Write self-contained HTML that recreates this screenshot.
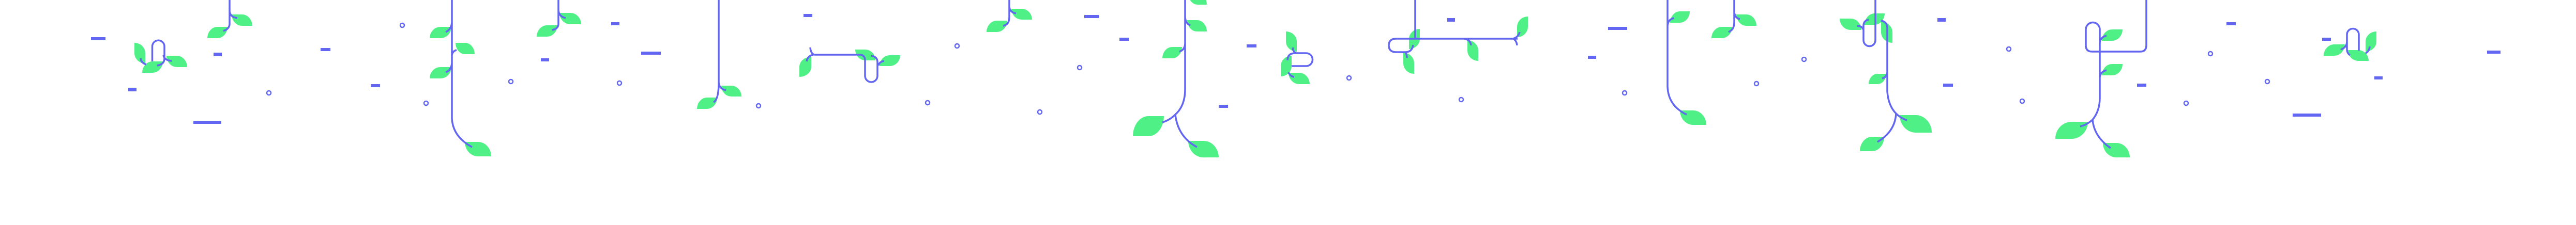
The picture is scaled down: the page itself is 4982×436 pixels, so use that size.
<!DOCTYPE html>
<html><head><meta charset="utf-8"><style>
html,body{margin:0;padding:0;background:#fff;}
#c{position:relative;width:4982px;height:436px;overflow:hidden;background:#fff;}
svg{position:absolute;left:0;top:0;}
.l{position:absolute;background:#4ff085;}
.a{border-top-left-radius:50% 100%;border-bottom-right-radius:50% 100%;}
.b{border-top-right-radius:50% 100%;border-bottom-left-radius:50% 100%;}
.va{border-top-left-radius:100% 50%;border-bottom-right-radius:100% 50%;}
.vb{border-top-right-radius:100% 50%;border-bottom-left-radius:100% 50%;}
</style></head><body><div id="c">
<div class="l vb" style="left:260px;top:83px;width:21px;height:40px"></div>
<div class="l a" style="left:275px;top:119px;width:40px;height:22px"></div>
<div class="l b" style="left:322px;top:108px;width:40px;height:22px"></div>
<div class="l b" style="left:448px;top:28px;width:40px;height:22px"></div>
<div class="l a" style="left:401px;top:52px;width:39px;height:22px"></div>
<div class="l a" style="left:831px;top:52px;width:42px;height:22px"></div>
<div class="l b" style="left:881px;top:83px;width:37px;height:22px"></div>
<div class="l a" style="left:831px;top:130px;width:42px;height:22px"></div>
<div class="l b" style="left:899px;top:275px;width:51px;height:28px"></div>
<div class="l b" style="left:1082px;top:25px;width:42px;height:22px"></div>
<div class="l a" style="left:1038px;top:49px;width:40px;height:22px"></div>
<div class="l b" style="left:1395px;top:166px;width:39px;height:21px"></div>
<div class="l a" style="left:1348px;top:189px;width:39px;height:22px"></div>
<div class="l va" style="left:1546px;top:110px;width:23px;height:39px"></div>
<div class="l b" style="left:1654px;top:96px;width:39px;height:21px"></div>
<div class="l a" style="left:1701px;top:107px;width:40px;height:21px"></div>
<div class="l b" style="left:1956px;top:17px;width:40px;height:21px"></div>
<div class="l a" style="left:1908px;top:40px;width:40px;height:22px"></div>
<div class="l b" style="left:2298px;top:-13px;width:36px;height:22px"></div>
<div class="l b" style="left:2296px;top:39px;width:38px;height:22px"></div>
<div class="l a" style="left:2248px;top:91px;width:38px;height:22px"></div>
<div class="l a" style="left:2191px;top:225px;width:60px;height:39px"></div>
<div class="l b" style="left:2298px;top:273px;width:59px;height:32px"></div>
<div class="l vb" style="left:2487px;top:61px;width:21px;height:39px"></div>
<div class="l va" style="left:2477px;top:108px;width:21px;height:40px"></div>
<div class="l b" style="left:2492px;top:141px;width:41px;height:22px"></div>
<div class="l va" style="left:2725px;top:56px;width:21px;height:39px"></div>
<div class="l vb" style="left:2714px;top:102px;width:21px;height:41px"></div>
<div class="l vb" style="left:2838px;top:78px;width:21px;height:40px"></div>
<div class="l va" style="left:2934px;top:32px;width:21px;height:40px"></div>
<div class="l a" style="left:3230px;top:22px;width:38px;height:22px"></div>
<div class="l b" style="left:3249px;top:214px;width:51px;height:28px"></div>
<div class="l b" style="left:3358px;top:28px;width:39px;height:22px"></div>
<div class="l a" style="left:3310px;top:52px;width:40px;height:22px"></div>
<div class="l b" style="left:3558px;top:36px;width:42px;height:22px"></div>
<div class="l a" style="left:3606px;top:26px;width:39px;height:22px"></div>
<div class="l vb" style="left:3638px;top:42px;width:22px;height:41px"></div>
<div class="l a" style="left:3614px;top:143px;width:34px;height:20px"></div>
<div class="l b" style="left:3674px;top:223px;width:62px;height:34px"></div>
<div class="l a" style="left:3597px;top:265px;width:47px;height:28px"></div>
<div class="l a" style="left:4065px;top:57px;width:40px;height:22px"></div>
<div class="l a" style="left:4065px;top:124px;width:40px;height:22px"></div>
<div class="l a" style="left:3975px;top:236px;width:63px;height:33px"></div>
<div class="l b" style="left:4067px;top:277px;width:52px;height:28px"></div>
<div class="l a" style="left:4494px;top:86px;width:41px;height:22px"></div>
<div class="l b" style="left:4541px;top:97px;width:40px;height:21px"></div>
<div class="l va" style="left:4575px;top:61px;width:21px;height:39px"></div>

<svg width="4982" height="436" viewBox="0 0 4982 436">
<g fill="none" stroke="#6366f1" stroke-width="3.5">
<path d="M294.5,119 V90 A11.75 11.75 0 0 1 318 90 V113 Q318 125 304 127 M272,113 Q273 122 283 125 M316,107 Q318 117 332 118"/>
<path d="M444,0 V46 Q444 56 432 60 M444,22 Q445 33 459 35"/>
<path d="M874,0 V230 Q876 265 913 285 M874,43 Q873 57 862 62 M874,107 Q875 99 883 97 M874,122 Q873 136 862 140"/>
<path d="M1080,0 V46 Q1080 56 1068 58 M1080,20 Q1081 32 1094 35"/>
<path d="M1390,0 V160 Q1390 193 1380 198 M1390,160 Q1391 172 1404 175"/>
<path d="M1567,92 Q1568 104 1575 106 H1662 Q1673 106 1673 117 V147 A12 12 0 0 0 1697 147 V120 Q1697 110 1685 108 M1573,106 Q1562 108 1560 119 M1699,127 Q1700 120 1710 118"/>
<path d="M1952,0 V33 Q1952 48 1940 50 M1952,13 Q1953 24 1965 26"/>
<path d="M2292,0 V173 Q2292 205 2273 222 Q2262 233 2248 237 M2273,222 Q2278 265 2315 285 M2292,33 Q2293 46 2302 49 M2292,85 Q2291 97 2281 100"/>
<path d="M2490,117 Q2490 103 2505 103 H2526 A12.5 12.5 0 0 1 2526 128 H2498 M2500,92 Q2501 101 2507 103 M2492,140 Q2495 148 2503 149"/>
<path d="M2737,0 V75 M2935,75 H2700 Q2686 75 2686 88 Q2686 101 2700 101 H2718 Q2731 101 2733 87 M2718,101 Q2721 106 2721 112 M2832,75 Q2844 77 2845 88 M2926,75 Q2933 78 2934 88 M2926,75 Q2937 72 2939 62"/>
<path d="M3225,0 V167 Q3226 205 3262 222 M3225,50 Q3226 37 3238 35"/>
<path d="M3354,0 V43 Q3354 58 3343 62 M3354,23 Q3355 35 3365 37"/>
<path d="M3627,0 V78 A11.5 11.5 0 0 1 3604 78 V50 Q3604 40 3614 38 M3638,40 Q3650 42 3650 55 V177 Q3652 205 3667 220 Q3676 229 3688 233 M3667,220 Q3665 255 3631 275 M3650,140 Q3649 150 3640 152 M3592,50 Q3601 50 3604 58"/>
<path d="M4151,0 V88 Q4151 100 4139 100 H4046 Q4034 100 4034 88 V57 A13.5 13.5 0 0 1 4061 57 V190 Q4061 215 4047 232 Q4036 242 4023 245 M4047,232 Q4050 265 4082 287 M4061,83 Q4062 72 4074 69 M4061,150 Q4062 139 4074 136"/>
<path d="M4527,96 Q4539 92 4539 80 V67 A11.5 11.5 0 0 1 4562 67 V98 M4539,80 V97 Q4540 104 4545 107 M4583,90 Q4582 100 4575 103"/>
</g>
<g fill="none" stroke="#6366f1" stroke-width="2.5">
<circle cx="520" cy="180" r="4"/><circle cx="778" cy="49" r="4"/><circle cx="824" cy="200" r="4"/>
<circle cx="988" cy="158" r="4"/><circle cx="1198" cy="161" r="4"/><circle cx="1467" cy="205" r="4"/>
<circle cx="1851" cy="89" r="4"/><circle cx="1794" cy="199" r="4"/><circle cx="2011" cy="217" r="4"/>
<circle cx="2088" cy="131" r="4"/><circle cx="2609" cy="151" r="4"/><circle cx="2826" cy="193" r="4"/>
<circle cx="3142" cy="180" r="4"/><circle cx="3489" cy="115" r="4"/><circle cx="3397" cy="162" r="4"/>
<circle cx="3885" cy="95" r="4"/><circle cx="3911" cy="196" r="4"/><circle cx="4275" cy="104" r="4"/>
<circle cx="4228" cy="200" r="4"/><circle cx="4385" cy="158" r="4"/>
</g>
<g fill="#6366f1">
<rect x="176" y="72" width="28" height="6"/><rect x="248" y="170" width="16" height="7"/>
<rect x="374" y="234" width="54" height="6"/><rect x="413" y="102" width="16" height="7"/>
<rect x="620" y="93" width="19" height="6"/><rect x="717" y="163" width="18" height="6"/>
<rect x="1182" y="43" width="16" height="6"/><rect x="1046" y="113" width="16" height="6"/>
<rect x="1240" y="100" width="38" height="6"/><rect x="1554" y="27" width="17" height="6"/>
<rect x="2097" y="29" width="28" height="6"/><rect x="2165" y="73" width="18" height="6"/>
<rect x="2357" y="203" width="18" height="6"/><rect x="2411" y="86" width="19" height="6"/>
<rect x="2799" y="35" width="15" height="7"/><rect x="3110" y="52" width="37" height="6"/>
<rect x="3071" y="108" width="16" height="6"/><rect x="3747" y="35" width="16" height="7"/>
<rect x="3758" y="162" width="19" height="6"/><rect x="4306" y="43" width="18" height="6"/>
<rect x="4133" y="162" width="18" height="6"/><rect x="4491" y="73" width="17" height="6"/>
<rect x="4592" y="148" width="16" height="6"/><rect x="4434" y="220" width="55" height="6"/>
<rect x="4810" y="98" width="26" height="6"/>
</g>
</svg>
</div></body></html>
